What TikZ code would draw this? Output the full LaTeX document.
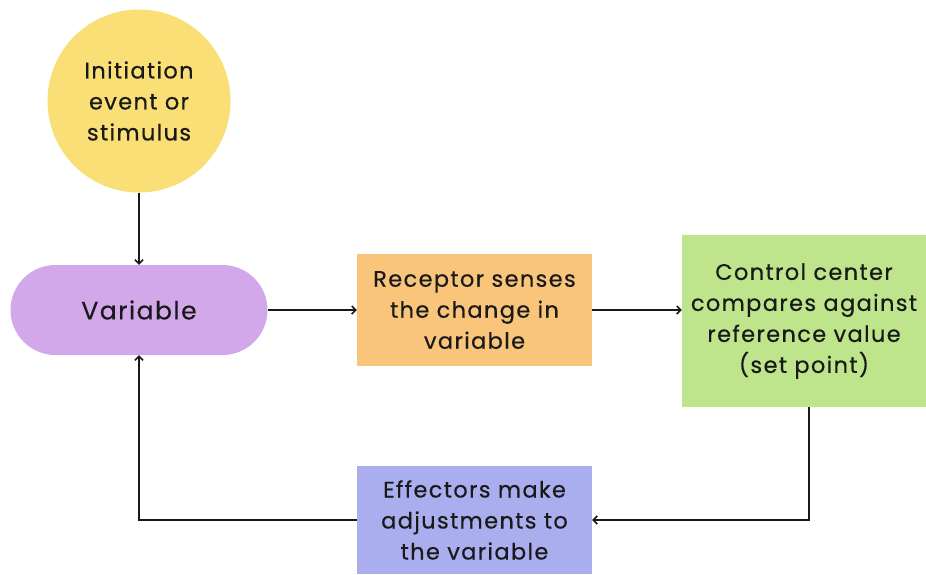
\documentclass[tikz,border=0pt]{standalone}
\usepackage{fontspec}
\setmainfont{Poppins}[LetterSpace=6,FakeBold=0.4]
\usetikzlibrary{arrows.meta}
\definecolor{cyel}{HTML}{F9DF75}
\definecolor{cpur}{HTML}{D3A8EA}
\definecolor{corg}{HTML}{F8C57B}
\definecolor{cgrn}{HTML}{BEE58B}
\definecolor{cblu}{HTML}{ABAEEE}
\begin{document}
\begin{tikzpicture}[x=1pt,y=-1pt,
  box/.style={draw=none, align=center, inner sep=0pt, font=\fontsize{22.5}{31}\selectfont, text=black!90},
  arr/.style={draw=black!90, line width=1.5pt, -{Straight Barb[length=4pt,width=8pt]}}]
\useasboundingbox (0,0) rectangle (926,574);
\node[box, circle, fill=cyel, minimum size=183pt] (init) at (139,101) {Initiation\\event or\\stimulus};
\node[box, fill=cpur, rounded corners=45pt, minimum width=257pt, minimum height=90pt, font=\fontsize{25}{31}\selectfont] (var) at (139,310) {Variable};
\node[box, fill=corg, minimum width=235pt, minimum height=112pt] (rec) at (474.5,310) {Receptor senses\\the change in\\variable};
\node[box, fill=cgrn, minimum width=244pt, minimum height=172pt] (ctrl) at (804,321) {Control center\\compares against\\reference value\\(set point)};
\node[box, fill=cblu, minimum width=235pt, minimum height=108pt] (eff) at (474.5,520) {Effectors make\\adjustments to\\the variable};
\draw[arr] (init.south) -- (var.north);
\draw[arr] (var.east) -- (rec.west);
\draw[arr] (rec.east) -- (rec.east -| ctrl.west);
\draw[arr] ([xshift=5pt]ctrl.south) |- (eff.east);
\draw[arr] (eff.west) -| (var.south);
\end{tikzpicture}
\end{document}
